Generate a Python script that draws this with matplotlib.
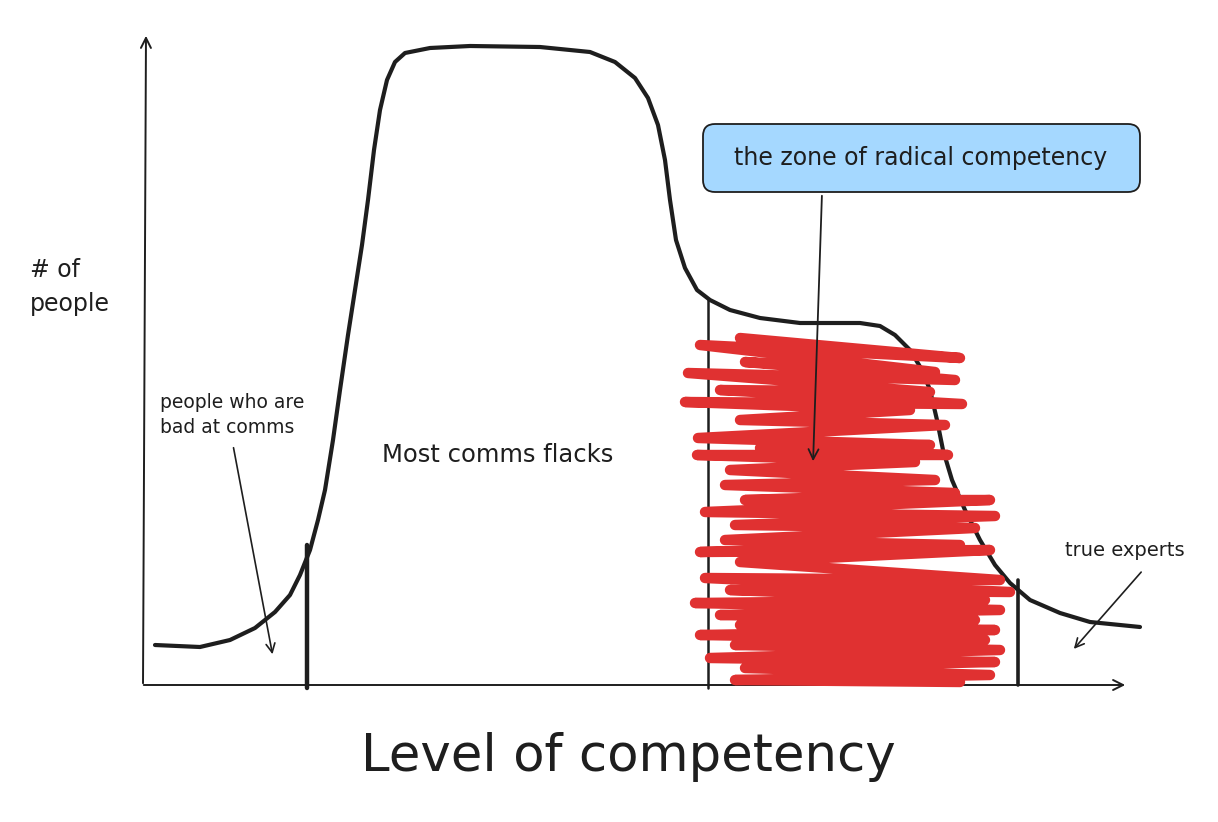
import numpy as np
import matplotlib.pyplot as plt
from matplotlib.patches import FancyBboxPatch

# Sketch coordinates (drawing units, y grows downward like the canvas)
curve_x = [155, 200, 230, 255, 275, 290, 300, 310, 318, 325, 333, 340, 348,
           355, 362, 368, 374, 380, 387, 395, 405, 430, 470, 540, 590, 615,
           635, 648, 658, 665, 670, 676, 685, 697, 710, 730, 760, 800, 860,
           880, 895, 910, 922, 930, 937, 943, 952, 965, 980, 995, 1010, 1030,
           1060, 1090, 1140]
curve_y = [645, 647, 640, 628, 612, 595, 575, 550, 520, 490, 440, 390, 335,
           290, 245, 200, 150, 110, 80, 62, 53, 48, 46, 47, 52, 62,
           78, 98, 125, 160, 200, 240, 268, 290, 300, 310, 318, 323, 323,
           326, 335, 350, 370, 390, 420, 450, 480, 510, 540, 565, 583, 600,
           613, 622, 627]

# vertical dividers: x, top, bottom
div_x = [307, 708, 1018]
div_top = [545, 300, 580]
div_bottom = [688, 688, 685]
div_width = [3.2, 1.8, 2.6]

# red scribble turning points
scrib_x = [740, 960, 700, 935, 745, 955, 688, 930, 720, 962, 685, 910,
           740, 945, 698, 930, 760, 948, 697, 915, 730, 935, 725, 955,
           745, 990, 705, 995, 735, 975, 725, 960, 700, 990, 740, 1000,
           705, 1010, 730, 985, 695, 1000, 720, 975, 740, 995, 700, 985,
           735, 1000, 710, 995, 745, 990, 735, 960]
scrib_y = [338, 358, 345, 372, 362, 380, 373, 392, 390, 404, 402, 410,
           420, 425, 438, 445, 448, 455, 455, 462, 470, 480, 485, 493,
           500, 500, 512, 516, 525, 528, 540, 545, 552, 550, 562, 580,
           578, 592, 590, 600, 603, 610, 615, 620, 625, 630, 635, 640,
           645, 650, 658, 662, 668, 675, 680, 682]

fig = plt.figure(figsize=(12.18, 8.22), dpi=100)
ax = fig.add_axes([0, 0, 1, 1])
ax.set_xlim(0, 1218)
ax.set_ylim(822, 0)
ax.axis('off')

ink = '#1e1e1e'

# axes arrows
ax.annotate('', xy=(146, 33), xytext=(143, 686),
            arrowprops=dict(arrowstyle='->', lw=1.4, color=ink,
                            mutation_scale=18))
ax.annotate('', xy=(1128, 685), xytext=(141, 685),
            arrowprops=dict(arrowstyle='->', lw=1.4, color=ink,
                            mutation_scale=18))

# main curve
ax.plot(curve_x, curve_y, color=ink, lw=3.0,
        solid_capstyle='round', solid_joinstyle='round', zorder=2)

# dividers
for x, t, b, w in zip(div_x, div_top, div_bottom, div_width):
    ax.plot([x, x], [t, b], color=ink, lw=w, solid_capstyle='round', zorder=2)

# red scribble (drawn over the curve, like the sketch)
ax.plot(scrib_x, scrib_y, color='#e03131', lw=7.5,
        solid_capstyle='round', solid_joinstyle='round', zorder=3)

# callout box
box = FancyBboxPatch((703, 124), 437, 68,
                     boxstyle='round,pad=0,rounding_size=12',
                     fc='#a5d8ff', ec=ink, lw=1.3, zorder=4)
ax.add_patch(box)
ax.text(921, 158, 'the zone of radical competency', ha='center',
        va='center', fontsize=17, color=ink, zorder=5)
ax.annotate('', xy=(813, 464), xytext=(822, 193),
            arrowprops=dict(arrowstyle='->', lw=1.3, color=ink,
                            mutation_scale=18), zorder=5)

# labels
ax.text(30, 287, '# of\npeople', ha='left', va='center', fontsize=17,
        color=ink, linespacing=1.5)
ax.text(160, 415, 'people who are\nbad at comms', ha='left', va='center',
        fontsize=13.5, color=ink, linespacing=1.35)
ax.annotate('', xy=(273, 657), xytext=(233, 445),
            arrowprops=dict(arrowstyle='->', lw=1.2, color=ink,
                            mutation_scale=16))
ax.text(382, 455, 'Most comms flacks', ha='left', va='center',
        fontsize=17.5, color=ink)
ax.text(1065, 550, 'true experts', ha='left', va='center',
        fontsize=14, color=ink)
ax.annotate('', xy=(1072, 651), xytext=(1143, 570),
            arrowprops=dict(arrowstyle='->', lw=1.2, color=ink,
                            mutation_scale=16))

ax.text(628, 757, 'Level of competency', ha='center', va='center',
        fontsize=37, color=ink)

fig.savefig('out.png', dpi=100)
